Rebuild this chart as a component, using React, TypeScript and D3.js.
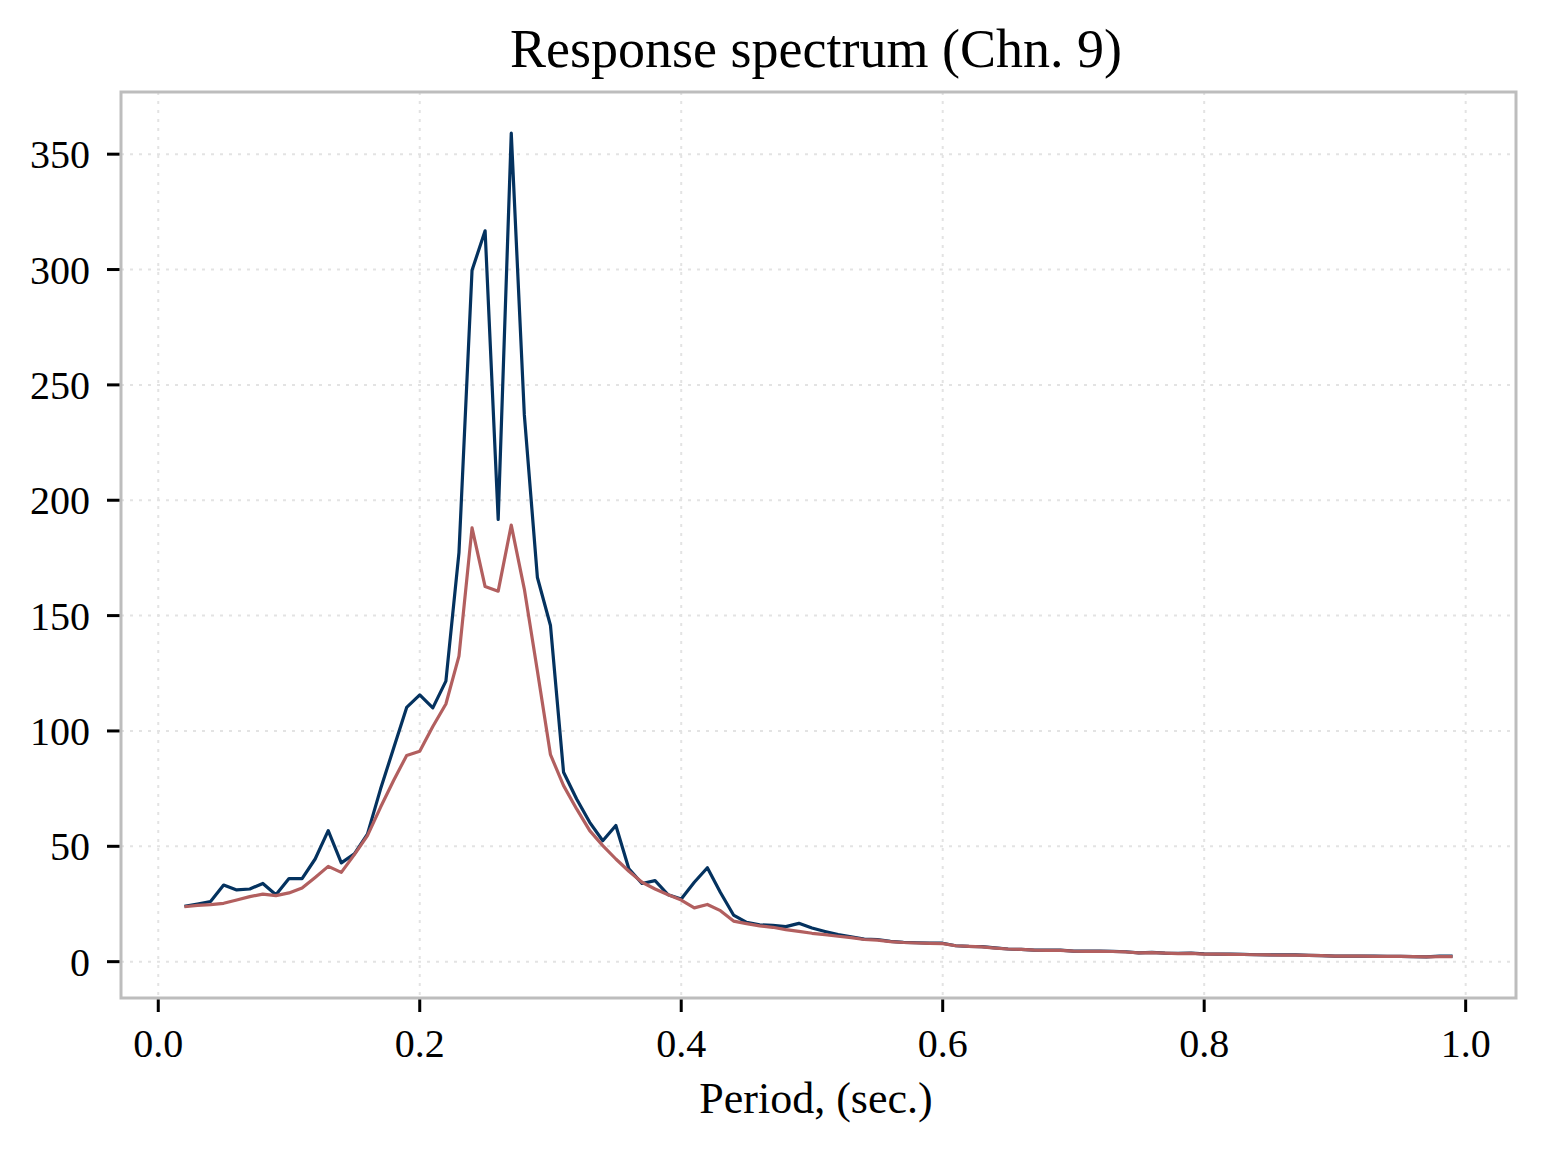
import React from "react";
import * as d3 from "d3";

const periods = [
  0.02, 0.03, 0.04, 0.05, 0.06, 0.07, 0.08, 0.09, 0.10, 0.11,
  0.12, 0.13, 0.14, 0.15, 0.16, 0.17, 0.18, 0.19, 0.20, 0.21,
  0.22, 0.23, 0.24, 0.25, 0.26, 0.27, 0.28, 0.29, 0.30, 0.31,
  0.32, 0.33, 0.34, 0.35, 0.36, 0.37, 0.38, 0.39, 0.40, 0.41,
  0.42, 0.43, 0.44, 0.45, 0.46, 0.47, 0.48, 0.49, 0.50, 0.51,
  0.52, 0.53, 0.54, 0.55, 0.56, 0.57, 0.58, 0.59, 0.60, 0.61,
  0.62, 0.63, 0.64, 0.65, 0.66, 0.67, 0.68, 0.69, 0.70, 0.71,
  0.72, 0.73, 0.74, 0.75, 0.76, 0.77, 0.78, 0.79, 0.80, 0.81,
  0.82, 0.83, 0.84, 0.85, 0.86, 0.87, 0.88, 0.89, 0.90, 0.91,
  0.92, 0.93, 0.94, 0.95, 0.96, 0.97, 0.98, 0.99,
];

const blueSeries = [
  24.0, 25.0, 26.1, 33.2, 31.1, 31.5, 33.9, 29.0, 36.0, 36.0,
  44.5, 56.8, 42.8, 46.7, 55.3, 74.8, 92.5, 110.2, 115.6, 110.0,
  121.6, 177.3, 299.7, 316.8, 191.7, 359.1, 237.0, 166.5, 145.7, 82.1,
  70.5, 60.4, 52.4, 59.0, 40.2, 33.9, 35.1, 29.0, 27.2, 34.4,
  40.7, 30.0, 20.2, 17.0, 16.0, 15.7, 15.2, 16.6, 14.6, 13.1,
  11.7, 10.8, 9.8, 9.6, 8.8, 8.4, 8.2, 8.0, 8.0, 6.9,
  6.6, 6.5, 6.0, 5.5, 5.3, 5.0, 5.0, 5.0, 4.6, 4.6,
  4.6, 4.5, 4.3, 3.8, 4.0, 3.7, 3.6, 3.7, 3.4, 3.3,
  3.3, 3.2, 3.0, 2.9, 2.9, 2.9, 2.7, 2.6, 2.4, 2.4,
  2.4, 2.4, 2.3, 2.3, 2.2, 2.1, 2.4, 2.4,
];

const redSeries = [
  23.8, 24.4, 24.7, 25.3, 26.7, 28.2, 29.3, 28.6, 29.8, 31.9,
  36.5, 41.3, 38.7, 46.4, 54.6, 66.9, 78.5, 89.4, 91.2, 101.9,
  111.7, 132.4, 188.0, 162.6, 160.6, 189.2, 161.5, 126.0, 89.7, 76.3,
  66.2, 56.8, 50.3, 44.5, 39.2, 34.4, 31.5, 29.0, 26.7, 23.3,
  24.8, 22.1, 17.6, 16.5, 15.5, 14.9, 13.9, 13.1, 12.3, 11.7,
  11.0, 10.4, 9.6, 9.3, 8.7, 8.3, 8.1, 7.9, 7.8, 6.9,
  6.6, 6.4, 5.9, 5.5, 5.3, 5.0, 4.9, 4.9, 4.6, 4.5,
  4.5, 4.4, 4.2, 3.8, 3.9, 3.7, 3.5, 3.6, 3.3, 3.3,
  3.2, 3.1, 3.0, 2.9, 2.8, 2.8, 2.7, 2.6, 2.4, 2.4,
  2.4, 2.3, 2.3, 2.3, 2.2, 2.1, 2.2, 2.2,
];

const xTicks = [0.0, 0.2, 0.4, 0.6, 0.8, 1.0];
const yTicks = [0, 50, 100, 150, 200, 250, 300, 350];

const titleText = "Response spectrum (Chn. 9)";
const xLabelText = "Period, (sec.)";

const W = 1546;
const H = 1152;
const plot = { left: 121, right: 1516, top: 92, bottom: 998 };
const FONT = "'Liberation Serif', 'DejaVu Serif', serif";

export default function App() {
  const xMin = d3.min(periods) as number;
  const xMax = d3.max(periods) as number;
  const allY = [...blueSeries, ...redSeries];
  const yMin = d3.min(allY) as number;
  const yMax = d3.max(allY) as number;
  const xPad = (xMax - xMin) * 0.05;
  const yPad = (yMax - yMin) * 0.05;

  const x = d3.scaleLinear().domain([xMin - xPad, xMax + xPad]).range([plot.left, plot.right]);
  const y = d3.scaleLinear().domain([yMin - yPad, yMax + yPad]).range([plot.bottom, plot.top]);

  const line = d3
    .line<number>()
    .x((_, i) => x(periods[i]))
    .y((d) => y(d));

  const blueColor = "#04325f";
  const redColor = "#b25f5f";

  return (
    <svg
      width={W}
      height={H}
      style={{ position: "absolute", left: 0, top: 0, background: "#fff" }}
      fontFamily={FONT}
    >
      <rect x={0} y={0} width={W} height={H} fill="#ffffff" />
      {/* grid */}
      <g stroke="#e3e3e3" strokeWidth={2} strokeDasharray="3,6">
        {xTicks.map((t) => (
          <line key={"gx" + t} x1={x(t)} x2={x(t)} y1={plot.top} y2={plot.bottom} />
        ))}
        {yTicks.map((t) => (
          <line key={"gy" + t} x1={plot.left} x2={plot.right} y1={y(t)} y2={y(t)} />
        ))}
      </g>
      {/* lines */}
      <path d={line(blueSeries) || ""} fill="none" stroke={blueColor} strokeWidth={3.2} strokeLinejoin="round" />
      <path d={line(redSeries) || ""} fill="none" stroke={redColor} strokeWidth={3.2} strokeLinejoin="round" />
      {/* frame */}
      <rect
        x={plot.left}
        y={plot.top}
        width={plot.right - plot.left}
        height={plot.bottom - plot.top}
        fill="none"
        stroke="#bdbdbd"
        strokeWidth={3}
      />
      {/* x ticks */}
      {xTicks.map((t) => (
        <g key={"xt" + t}>
          <line x1={x(t)} x2={x(t)} y1={plot.bottom + 1.5} y2={plot.bottom + 14} stroke="#000" strokeWidth={3} />
          <text x={x(t)} y={1057} textAnchor="middle" fontSize={40} fill="#000">
            {t.toFixed(1)}
          </text>
        </g>
      ))}
      {/* y ticks */}
      {yTicks.map((t) => (
        <g key={"yt" + t}>
          <line x1={plot.left - 1.5} x2={plot.left - 14} y1={y(t)} y2={y(t)} stroke="#000" strokeWidth={3} />
          <text x={90} y={y(t)} dy="0.35em" textAnchor="end" fontSize={40} fill="#000">
            {t}
          </text>
        </g>
      ))}
      {/* title */}
      <text x={816} y={67} textAnchor="middle" fontSize={54} fill="#000">
        {titleText}
      </text>
      {/* x label */}
      <text x={816} y={1113} textAnchor="middle" fontSize={44} fill="#000">
        {xLabelText}
      </text>
    </svg>
  );
}
